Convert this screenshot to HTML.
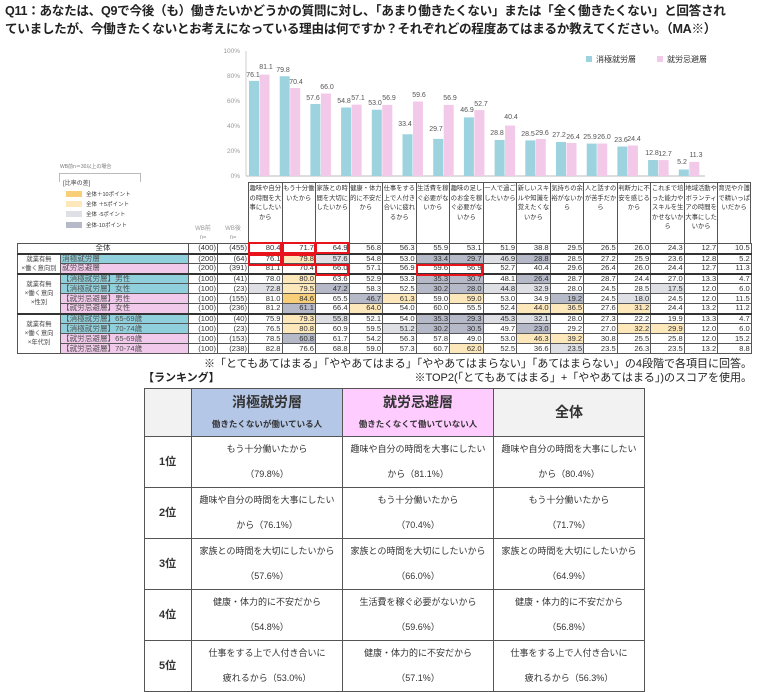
<!DOCTYPE html>
<html><head><meta charset="utf-8"><style>
*{margin:0;padding:0;box-sizing:border-box}
body{width:770px;height:684px;background:#fff;position:relative;overflow:hidden;font-family:"Liberation Sans","Noto Sans CJK JP",sans-serif;color:#333}
.abs{position:absolute}
.title{left:5px;top:2px;font-size:12.6px;font-weight:bold;line-height:18px;color:#222;white-space:nowrap;letter-spacing:-0.3px}
.hc{position:absolute;top:182px;height:61px;width:33.53px;border-left:1px solid #555;font-size:6.3px;line-height:9.5px;text-align:center;padding-top:2px;color:#333;word-break:break-all}
table.d{position:absolute;left:17px;top:243px;border-collapse:collapse;font-size:7.6px;table-layout:fixed}
table.d td{border:1px solid #555;height:10px;line-height:8px;padding:0 1px;text-align:right;color:#333;white-space:nowrap;overflow:hidden}
table.d td.l{text-align:center;font-size:6.3px;line-height:9px;color:#444;white-space:normal}
table.d td.b{background:#8fd0dc;text-align:left;color:#555}
table.d td.p{background:#f1c9ea;text-align:left;color:#555}
tr.t td{border-top:2px solid #333}
.o{background:#f8cf78}.y{background:#fde8bb}.g{background:#dfe0e6}.k{background:#b6b9c7}
.rb{position:absolute;border:2px solid #e8141c}
table.r{position:absolute;left:144px;top:388px;border-collapse:collapse;table-layout:fixed;font-size:9px}
table.r td{border:1px solid #555;text-align:center;color:#333;line-height:25px}
table.r td.rk{text-align:left;padding-left:14px;font-weight:bold;font-size:11px}
</style></head><body>
<div class="abs title">Q11：あなたは、Q9で今後（も）働きたいかどうかの質問に対し、「あまり働きたくない」または「全く働きたくない」と回答され<br>ていましたが、今働きたくないとお考えになっている理由は何ですか？それぞれどの程度あてはまるか教えてください。（MA※）</div>

<svg class="abs" style="left:0;top:0" width="770" height="182">
<g font-size="6.5" fill="#999" text-anchor="end" font-family="Liberation Sans">
<text x="240" y="53">100%</text><text x="240" y="78">80%</text><text x="240" y="103">60%</text><text x="240" y="128">40%</text><text x="240" y="153">20%</text><text x="240" y="178">0%</text></g>
<line x1="246" y1="51" x2="246" y2="176" stroke="#ccc"/>
<line x1="246" y1="176" x2="705" y2="176" stroke="#bbb"/>
<g fill="#9dd3df">
<rect x="249" y="80.9" width="10" height="95.1"/><rect x="279.7" y="76.25" width="10" height="99.75"/><rect x="310.4" y="104" width="10" height="72"/><rect x="341.1" y="107.5" width="10" height="68.5"/><rect x="371.8" y="109.75" width="10" height="66.25"/><rect x="402.5" y="134.25" width="10" height="41.75"/><rect x="433.2" y="138.9" width="10" height="37.1"/><rect x="463.9" y="117.4" width="10" height="58.6"/><rect x="494.6" y="140" width="10" height="36"/><rect x="525.3" y="140.4" width="10" height="35.6"/><rect x="556" y="142" width="10" height="34"/><rect x="586.7" y="143.6" width="10" height="32.4"/><rect x="617.4" y="146.5" width="10" height="29.5"/><rect x="648.1" y="160" width="10" height="16"/><rect x="678.8" y="169.5" width="10" height="6.5"/></g>
<g fill="#f2c9e9">
<rect x="259.5" y="74.6" width="10" height="101.4"/><rect x="290.2" y="88" width="10" height="88"/><rect x="320.9" y="93.5" width="10" height="82.5"/><rect x="351.6" y="104.6" width="10" height="71.4"/><rect x="382.3" y="104.9" width="10" height="71.1"/><rect x="413" y="101.5" width="10" height="74.5"/><rect x="443.7" y="104.9" width="10" height="71.1"/><rect x="474.4" y="110.1" width="10" height="65.9"/><rect x="505.1" y="125.5" width="10" height="50.5"/><rect x="535.8" y="139" width="10" height="37"/><rect x="566.5" y="143" width="10" height="33"/><rect x="597.2" y="143.5" width="10" height="32.5"/><rect x="627.9" y="145.5" width="10" height="30.5"/><rect x="658.6" y="160.1" width="10" height="15.9"/><rect x="689.3" y="161.9" width="10" height="14.1"/></g>
<g font-size="7" fill="#555" text-anchor="middle" font-family="Liberation Sans">
<text x="253" y="77">76.1</text><text x="283" y="72">79.8</text><text x="313" y="100">57.6</text><text x="344" y="103">54.8</text><text x="375" y="105">53.0</text><text x="405" y="126">33.4</text><text x="436" y="131">29.7</text><text x="467" y="112">46.9</text><text x="497" y="135">28.8</text><text x="528" y="136">28.5</text><text x="559" y="137">27.2</text><text x="590" y="139">25.9</text><text x="621" y="142">23.6</text><text x="652" y="155">12.8</text><text x="682" y="164">5.2</text>
<text x="266" y="69">81.1</text><text x="296" y="84">70.4</text><text x="327" y="89">66.0</text><text x="358" y="100">57.1</text><text x="389" y="100">56.9</text><text x="419" y="97">59.6</text><text x="450" y="100">56.9</text><text x="481" y="106">52.7</text><text x="511" y="119">40.4</text><text x="542" y="135">29.6</text><text x="573" y="139">26.4</text><text x="604" y="139">26.0</text><text x="634" y="141">24.4</text><text x="665" y="156">12.7</text><text x="696" y="157">11.3</text></g>
<rect x="586" y="56" width="6" height="6" fill="#9dd3df"/><text x="596" y="62" font-size="8" fill="#333">消極就労層</text>
<rect x="657" y="56" width="6" height="6" fill="#f2c9e9"/><text x="667" y="62" font-size="8" fill="#333">就労忌避層</text>
<text x="60" y="168" font-size="5" fill="#777">WB前n＝30以上の場合</text>
<rect x="59.5" y="173.5" width="81" height="60" fill="#fff" stroke="#bbb"/>
</svg>
<div class="abs" style="left:63px;top:179px;font-size:6px;color:#444;line-height:10px">[比率の差]</div>
<div class="abs o" style="left:66px;top:191px;width:16px;height:6px"></div><div class="abs" style="left:86px;top:190px;font-size:5.5px">全体＋10ポイント</div>
<div class="abs y" style="left:66px;top:201px;width:16px;height:6px"></div><div class="abs" style="left:86px;top:200px;font-size:5.5px">全体 ＋5ポイント</div>
<div class="abs g" style="left:66px;top:211px;width:16px;height:6px"></div><div class="abs" style="left:86px;top:210px;font-size:5.5px">全体 -5ポイント</div>
<div class="abs k" style="left:66px;top:222px;width:16px;height:6px"></div><div class="abs" style="left:86px;top:221px;font-size:5.5px">全体-10ポイント</div>
<div class="abs" style="left:190px;top:225px;font-size:6px;color:#999;text-align:center;width:26px;line-height:9px">WB前<br>n=</div>
<div class="abs" style="left:219px;top:225px;font-size:6px;color:#999;text-align:center;width:28px;line-height:9px">WB後<br>n=</div>
<div class="hc" style="left:248px">趣味や自分の時間を大事にしたいから</div>
<div class="hc" style="left:281.5px">もう十分働いたから</div>
<div class="hc" style="left:315px">家族との時間を大切にしたいから</div>
<div class="hc" style="left:348.6px">健康・体力的に不安だから</div>
<div class="hc" style="left:382.1px">仕事をする上で人付き合いに疲れるから</div>
<div class="hc" style="left:415.6px">生活費を稼ぐ必要がないから</div>
<div class="hc" style="left:449.2px">趣味の足しのお金を稼ぐ必要がないから</div>
<div class="hc" style="left:482.7px">一人で過ごしたいから</div>
<div class="hc" style="left:516.2px">新しいスキルや知識を覚えたくないから</div>
<div class="hc" style="left:549.8px">気持ちの余裕がないから</div>
<div class="hc" style="left:583.3px">人と話すのが苦手だから</div>
<div class="hc" style="left:616.8px">判断力に不安を感じるから</div>
<div class="hc" style="left:650.4px">これまで培った能力やスキルを生かせないから</div>
<div class="hc" style="left:683.9px">地域活動やボランティアの時間を大事にしたいから</div>
<div class="hc" style="left:717.4px;border-right:1px solid #555">育児や介護で精いっぱいだから</div>
<div class="abs" style="left:248px;top:182px;width:503px;border-top:1px solid #555"></div>

<table class="d">
<colgroup><col style="width:43px"><col style="width:128px"><col style="width:29px"><col style="width:31px"><col span="15" style="width:33.53px"></colgroup>
<tr><td colspan="2" style="text-align:center">全体</td><td>(400)</td><td>(455)</td><td>80.4</td><td>71.7</td><td>64.9</td><td>56.8</td><td>56.3</td><td>55.9</td><td>53.1</td><td>51.9</td><td>38.8</td><td>29.5</td><td>26.5</td><td>26.0</td><td>24.3</td><td>12.7</td><td>10.5</td></tr>
<tr class="t"><td rowspan="2" class="l">就業有無<br>×働く意向別</td><td class="b">消極就労層</td><td>(200)</td><td>(64)</td><td>76.1</td><td class="y">79.8</td><td class="g">57.6</td><td>54.8</td><td>53.0</td><td class="k">33.4</td><td class="k">29.7</td><td class="g">46.9</td><td class="k">28.8</td><td>28.5</td><td>27.2</td><td>25.9</td><td>23.6</td><td>12.8</td><td>5.2</td></tr>
<tr><td class="p">就労忌避層</td><td>(200)</td><td>(391)</td><td>81.1</td><td>70.4</td><td>66.0</td><td>57.1</td><td>56.9</td><td>59.6</td><td>56.9</td><td>52.7</td><td>40.4</td><td>29.6</td><td>26.4</td><td>26.0</td><td>24.4</td><td>12.7</td><td>11.3</td></tr>
<tr class="t"><td rowspan="4" class="l">就業有無<br>×働く意向<br>×性別</td><td class="b">【消極就労層】男性</td><td>(100)</td><td>(41)</td><td>78.0</td><td class="y">80.0</td><td>63.6</td><td>52.9</td><td>53.3</td><td class="k">35.3</td><td class="k">30.7</td><td>48.1</td><td class="k">26.4</td><td>28.7</td><td>28.7</td><td>24.4</td><td>27.0</td><td>13.3</td><td>4.7</td></tr>
<tr><td class="b">【消極就労層】女性</td><td>(100)</td><td>(23)</td><td class="g">72.8</td><td class="y">79.5</td><td class="k">47.2</td><td>58.3</td><td>52.5</td><td class="k">30.2</td><td class="k">28.0</td><td class="g">44.8</td><td class="g">32.9</td><td>28.0</td><td>24.5</td><td>28.5</td><td class="g">17.5</td><td>12.0</td><td>6.0</td></tr>
<tr><td class="p">【就労忌避層】男性</td><td>(100)</td><td>(155)</td><td>81.0</td><td class="o">84.6</td><td>65.5</td><td class="k">46.7</td><td class="y">61.3</td><td>59.0</td><td class="y">59.0</td><td>53.0</td><td>34.9</td><td class="k">19.2</td><td>24.5</td><td class="g">18.0</td><td>24.5</td><td>12.0</td><td>11.5</td></tr>
<tr><td class="p">【就労忌避層】女性</td><td>(100)</td><td>(236)</td><td>81.2</td><td class="k">61.1</td><td>66.4</td><td class="y">64.0</td><td>54.0</td><td>60.0</td><td>55.5</td><td>52.4</td><td class="y">44.0</td><td class="y">36.5</td><td>27.6</td><td class="y">31.2</td><td>24.4</td><td>13.2</td><td>11.2</td></tr>
<tr class="t"><td rowspan="4" class="l">就業有無<br>×働く意向<br>×年代別</td><td class="b">【消極就労層】65-69歳</td><td>(100)</td><td>(40)</td><td>75.9</td><td class="y">79.3</td><td class="g">55.8</td><td>52.1</td><td>54.0</td><td class="k">35.3</td><td class="k">29.3</td><td class="g">45.3</td><td class="g">32.1</td><td>28.0</td><td>27.3</td><td>22.2</td><td>19.9</td><td>13.3</td><td>4.7</td></tr>
<tr><td class="b">【消極就労層】70-74歳</td><td>(100)</td><td>(23)</td><td>76.5</td><td class="y">80.8</td><td>60.9</td><td>59.5</td><td class="g">51.2</td><td class="k">30.2</td><td class="k">30.5</td><td>49.7</td><td class="k">23.0</td><td>29.2</td><td>27.0</td><td class="y">32.2</td><td class="y">29.9</td><td>12.0</td><td>6.0</td></tr>
<tr><td class="p">【就労忌避層】65-69歳</td><td>(100)</td><td>(153)</td><td>78.5</td><td class="k">60.8</td><td>61.7</td><td>54.2</td><td>56.3</td><td>57.8</td><td>49.0</td><td>53.0</td><td class="y">46.3</td><td class="y">39.2</td><td>30.8</td><td>25.5</td><td>25.8</td><td>12.0</td><td>15.2</td></tr>
<tr><td class="p">【就労忌避層】70-74歳</td><td>(100)</td><td>(238)</td><td>82.8</td><td>76.6</td><td>68.8</td><td>59.0</td><td>57.3</td><td>60.7</td><td class="y">62.0</td><td>52.5</td><td>36.6</td><td class="g">23.5</td><td>23.5</td><td>26.3</td><td>23.5</td><td>13.2</td><td>8.8</td></tr>
</table>
<div class="rb" style="left:248px;top:242px;width:34px;height:12px"></div>
<div class="rb" style="left:282px;top:242px;width:34px;height:12px"></div>
<div class="rb" style="left:315px;top:242px;width:34px;height:12px"></div>
<div class="rb" style="left:248px;top:254px;width:34px;height:12px"></div>
<div class="rb" style="left:282px;top:254px;width:34px;height:12px"></div>
<div class="rb" style="left:315px;top:264px;width:34px;height:12px"></div>
<div class="rb" style="left:416px;top:264px;width:67px;height:12px"></div>

<div class="abs" style="right:18px;top:355px;font-size:11px;white-space:nowrap;color:#222">※「とてもあてはまる」「ややあてはまる」「ややあてはまらない」「あてはまらない」の4段階で各項目に回答。</div>
<div class="abs" style="right:18px;top:369px;font-size:11px;white-space:nowrap;color:#222">※TOP2(「とてもあてはまる」+「ややあてはまる」)のスコアを使用。</div>
<div class="abs" style="left:143px;top:369px;font-size:11px;font-weight:bold;color:#222">【ランキング】</div>

<table class="r">
<colgroup><col style="width:47px"><col style="width:151px"><col style="width:151px"><col style="width:151px"></colgroup>
<tr style="height:48px"><td style="background:#f2f2f2"></td>
<td style="background:#b4c7e7;line-height:18px"><div style="font-size:14px;font-weight:bold;color:#333">消極就労層</div><div style="font-size:8.5px;font-weight:bold;margin-top:4px">働きたくないが働いている人</div></td>
<td style="background:#ffccff;line-height:18px"><div style="font-size:14px;font-weight:bold;color:#333">就労忌避層</div><div style="font-size:8.5px;font-weight:bold;margin-top:4px">働きたくなくて働いていない人</div></td>
<td style="background:#f2f2f2;font-size:14px;font-weight:bold">全体</td></tr>
<tr style="height:49px"><td class="rk">1位</td><td>もう十分働いたから<br>（79.8%）</td><td>趣味や自分の時間を大事にしたい<br>から（81.1%）</td><td>趣味や自分の時間を大事にしたい<br>から（80.4%）</td></tr>
<tr style="height:49px"><td class="rk">2位</td><td>趣味や自分の時間を大事にしたい<br>から（76.1%）</td><td>もう十分働いたから<br>（70.4%）</td><td>もう十分働いたから<br>（71.7%）</td></tr>
<tr style="height:49px"><td class="rk">3位</td><td>家族との時間を大切にしたいから<br>（57.6%）</td><td>家族との時間を大切にしたいから<br>（66.0%）</td><td>家族との時間を大切にしたいから<br>（64.9%）</td></tr>
<tr style="height:49px"><td class="rk">4位</td><td>健康・体力的に不安だから<br>（54.8%）</td><td>生活費を稼ぐ必要がないから<br>（59.6%）</td><td>健康・体力的に不安だから<br>（56.8%）</td></tr>
<tr style="height:49px"><td class="rk">5位</td><td>仕事をする上で人付き合いに<br>疲れるから（53.0%）</td><td>健康・体力的に不安だから<br>（57.1%）</td><td>仕事をする上で人付き合いに<br>疲れるから（56.3%）</td></tr>
</table>
</body></html>
